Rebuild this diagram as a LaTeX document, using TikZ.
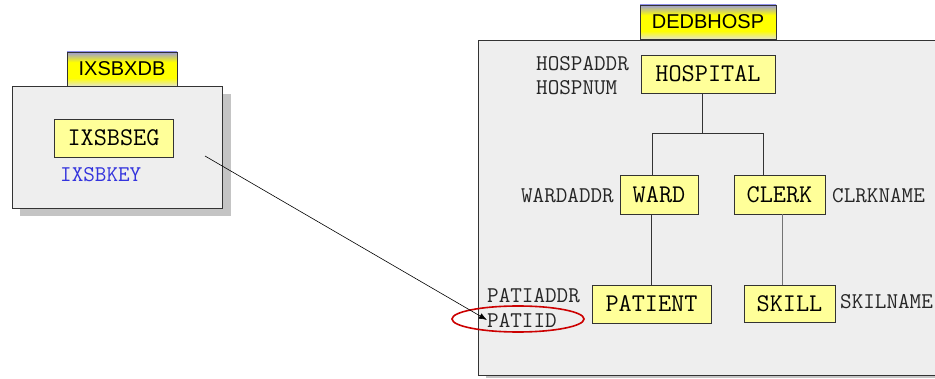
\documentclass[tikz,border=0pt]{standalone}
\usepackage{fontspec}
\setmainfont{Liberation Sans}
\usetikzlibrary{arrows.meta}
\definecolor{panelfill}{HTML}{EEEEEE}
\definecolor{shadowc}{HTML}{C4C4C4}
\definecolor{boxfill}{HTML}{FFFF99}
\definecolor{edgec}{HTML}{333333}
\definecolor{keyblue}{HTML}{3333DD}
\definecolor{ovalred}{HTML}{CC0000}
\definecolor{tabtop}{HTML}{9A9AD8}
\definecolor{tabbot}{HTML}{E4E4C8}
\pgfdeclareverticalshading{tabshade}{100bp}{
  color(0bp)=(tabbot);
  color(25bp)=(tabbot);
  color(37bp)=(yellow);
  color(60bp)=(yellow);
  color(75bp)=(tabtop);
  color(100bp)=(tabtop)}
\tikzset{
  panel/.style={draw=edgec, fill=panelfill, line width=0.8pt},
  shadowbox/.style={fill=shadowc, draw=none},
  tabbox/.style={draw=edgec, line width=0.8pt, shading=tabshade, rectangle, inner sep=0pt,
    font=\fontsize{20}{22}\selectfont},
  segbox/.style={draw=edgec, fill=boxfill, line width=0.8pt, rectangle, inner sep=0pt,
    font=\ttfamily\fontsize{25.5}{27}\selectfont},
  fieldlbl/.style={inner sep=0pt, font=\ttfamily\fontsize{22.5}{24}\selectfont, text=black!85},
  tree/.style={draw=black!80, line width=0.8pt},
}
\begin{document}
\begin{tikzpicture}[x=1pt, y=-1pt]
\clip (0,0) rectangle (935,379);
\fill[white] (0,0) rectangle (935,379);
% left panel
\fill[shadowbox] (20,94) rectangle (231,216);
\draw[panel] (12,86) rectangle (222,208);
\node[tabbox, minimum width=110pt, minimum height=34pt] (ixdb) at (122,69) {IXSBXDB};
\node[segbox, minimum width=119pt, minimum height=38pt] (ixseg) at (113.5,138) {IXSBSEG};
\node[fieldlbl, anchor=west, text=keyblue] (ixkey) at (60,174.5) {IXSBKEY};
% right panel
\fill[shadowbox] (486,48) rectangle (950,378);
\draw[panel] (478,40) rectangle (945,375);
\node[tabbox, minimum width=136pt, minimum height=34pt] (dedb) at (708,22) {DEDBHOSP};
\node[segbox, minimum width=134pt, minimum height=38pt] (hosp) at (708,74) {HOSPITAL};
\node[fieldlbl, anchor=west] (hospaddr) at (536,64) {HOSPADDR};
\node[fieldlbl, anchor=west] (hospnum) at (536,88) {HOSPNUM};
\node[segbox, minimum width=78pt, minimum height=39pt] (ward) at (659,194.5) {WARD};
\node[segbox, minimum width=91pt, minimum height=39pt] (clerk) at (779.5,194.5) {CLERK};
\node[fieldlbl, anchor=east] (wardaddr) at (614,196) {WARDADDR};
\node[fieldlbl, anchor=west] (clrkname) at (832,196) {CLRKNAME};
\node[segbox, minimum width=119pt, minimum height=38pt] (patient) at (651.5,304) {PATIENT};
\node[segbox, minimum width=91pt, minimum height=37pt] (skill) at (789.5,303.5) {SKILL};
\node[fieldlbl, anchor=west] (patiaddr) at (487,296) {PATIADDR};
\node[fieldlbl, anchor=west] (patiid) at (487,320) {PATIID};
\node[fieldlbl, anchor=west] (skilname) at (840,302) {SKILNAME};
% tree connectors
\coordinate (jm) at (702,133);
\coordinate (jl) at (652,133);
\coordinate (jr) at (763,133);
\coordinate (wp) at (651,0);
\coordinate (cs) at (782,0);
\draw[tree] (jm |- hosp.south) -- (jm);
\draw[tree] (jl |- ward.north) -- (jl) -- (jr) -- (jr |- clerk.north);
\draw[tree] (wp |- ward.south) -- (wp |- patient.north);
\draw[tree, draw=black!55] (cs |- clerk.south) -- (cs |- skill.north);
% red oval
\draw[ovalred, line width=1.6pt] (518,319) ellipse [x radius=66, y radius=13];
% cross reference arrow
\coordinate (src) at (205,156);
\draw[line width=0.6pt, -{Latex[length=8pt,width=6pt]}] (src) -- (patiid.west);
\end{tikzpicture}
\end{document}
